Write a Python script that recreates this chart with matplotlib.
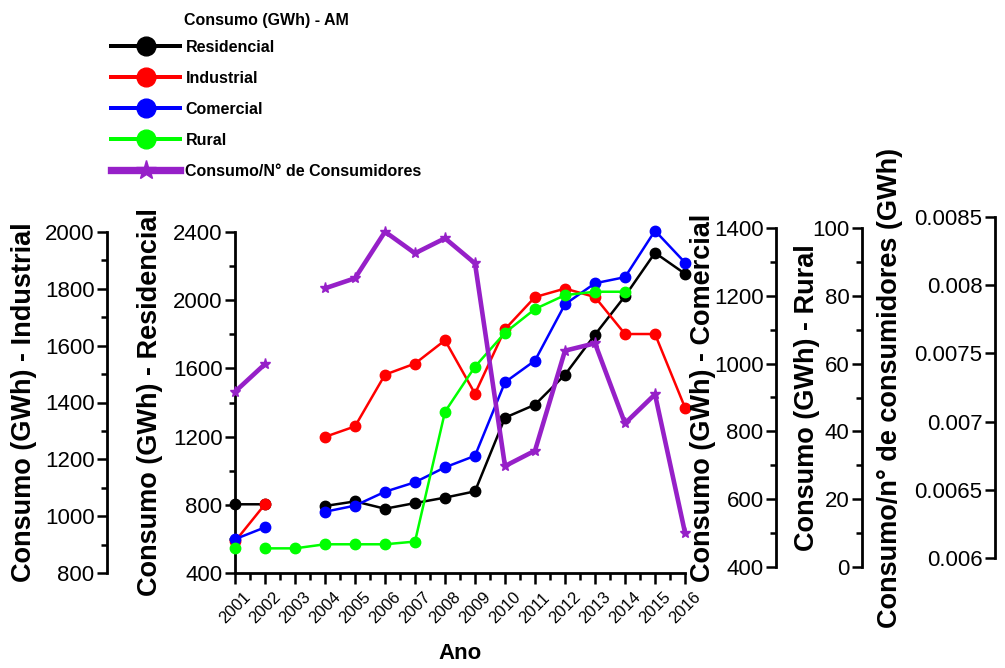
import numpy as np
import matplotlib.pyplot as plt
from matplotlib import font_manager
from matplotlib.ticker import MultipleLocator, FuncFormatter

plt.rcParams["font.family"] = "Liberation Sans"

nan = np.nan
years = list(range(2001, 2017))
residencial = [803, 803, nan, 793, 820, 777, 810, 842, 879, 1311, 1387, 1563, 1798, 2024, 2278, 2155]
industrial = [911, 1042, nan, 1279, 1316, 1498, 1537, 1619, 1431, 1658, 1771, 1801, 1771, 1641, 1641, 1382]
comercial = [482, 517, nan, 563, 581, 622, 650, 694, 728, 945, 1009, 1175, 1237, 1255, 1392, 1298]
rural = [5.5, 5.5, 5.5, 6.7, 6.7, 6.7, 7.5, 45.8, 59.1, 69.1, 76.1, 80.2, 81.2, 81.2, nan, nan]
por_consumidor = [0.007219, 0.007422, nan, 0.007977, 0.008051, 0.008392, 0.008234, 0.008344,
                  0.008160, 0.006674, 0.006787, 0.007520, 0.007574, 0.006987, 0.007200, 0.006186]

PURPLE = "#9620c8"
GREEN = "#00ff00"

# narrow bold face for the legend if it exists
names = {f.name for f in font_manager.fontManager.ttflist}
if "Liberation Sans Narrow" in names:
    leg_font = dict(family="Liberation Sans Narrow", weight="bold", size=14)
else:
    leg_font = dict(family="Liberation Sans", weight="bold", size=11.5)

W, H = 1005, 668
fig = plt.figure(figsize=(W / 100, H / 100), dpi=100)


def box(top, bottom):
    return [235 / W, (H - bottom) / H, 450 / W, (bottom - top) / H]


ax_res = fig.add_axes(box(232, 573))
ax_ind = fig.add_axes(box(232, 573))
ax_com = fig.add_axes(box(228, 567))
ax_rur = fig.add_axes(box(228, 567))
ax_cpc = fig.add_axes(box(217, 558))


def style_y(ax, spine_px, lims, major, minor, label, label_px, fmt=None):
    ax.set_xlim(2001, 2016)
    ax.set_ylim(*lims)
    for s in ["top", "right"]:
        ax.spines[s].set_visible(False)
    ax.spines["left"].set_linewidth(2)
    if ax is not ax_res:
        ax.patch.set_visible(False)
        ax.spines["bottom"].set_visible(False)
        ax.spines["left"].set_position(("axes", (spine_px - 235) / 450))
        ax.tick_params(axis="x", which="both", bottom=False, labelbottom=False)
    ax.yaxis.set_major_locator(MultipleLocator(major))
    if minor:
        ax.yaxis.set_minor_locator(MultipleLocator(minor))
    if fmt:
        ax.yaxis.set_major_formatter(FuncFormatter(fmt))
    ax.tick_params(axis="y", which="major", direction="out", length=7, width=1.8,
                   labelsize=16, pad=2)
    ax.tick_params(axis="y", which="minor", direction="out", length=4, width=1.8)
    ax.set_ylabel(label, fontsize=19.5, fontweight="bold")
    ax.yaxis.set_label_coords((label_px - 235) / 450, 0.5)


style_y(ax_res, 235, (400, 2400), 400, 200, "Consumo (GWh) - Residencial", 163)
style_y(ax_ind, 107, (800, 2000), 200, 100, "Consumo (GWh) - Industrial", 37)
style_y(ax_com, 776, (400, 1400), 200, 100, "Consumo (GWh) - Comercial", 716)
style_y(ax_rur, 862, (0, 100), 20, 10, "Consumo (GWh) - Rural", 820)
style_y(ax_cpc, 995, (0.006, 0.0085), 0.0005, None, "Consumo/n° de consumidores (GWh)", 903,
        fmt=lambda v, p: f"{v:g}")

# x axis on the main axes
ax_res.spines["bottom"].set_linewidth(2)
ax_res.set_xticks(years)
ax_res.set_xticklabels([str(y) for y in years], rotation=45, ha="center", fontsize=12)
ax_res.xaxis.set_minor_locator(MultipleLocator(0.5))
ax_res.tick_params(axis="x", which="major", direction="out", length=8, width=1.8, pad=4)
ax_res.tick_params(axis="x", which="minor", direction="out", length=5, width=1.8)
ax_res.set_xlabel("Ano", fontsize=16, fontweight="bold", labelpad=12)

lw, ms = 1.8, 7.5
h_res, = ax_res.plot(years, residencial, color="black", lw=lw, marker="o", ms=ms, clip_on=False)
h_ind, = ax_ind.plot(years, industrial, color="red", lw=lw, marker="o", ms=ms, clip_on=False)
h_com, = ax_com.plot(years, comercial, color="blue", lw=lw, marker="o", ms=ms, clip_on=False)
ax_rur.plot(years[:1], rural[:1], color=GREEN, ls="none", marker="o", ms=ms, clip_on=False)
h_rur, = ax_rur.plot(years[1:], rural[1:], color=GREEN, lw=lw, marker="o", ms=ms, clip_on=False)
h_cpc, = ax_cpc.plot(years, por_consumidor, color=PURPLE, lw=3.3, marker="*", ms=8, clip_on=False)

leg = fig.legend([h_res, h_ind, h_com, h_rur, h_cpc],
                 ["Residencial", "Industrial", "Comercial", "Rural", "Consumo/N° de Consumidores"],
                 title="Consumo (GWh) - AM", loc="upper left",
                 bbox_to_anchor=(100 / W, 1 - 2 / H), frameon=False, markerscale=1.8,
                 handlelength=4.3, handletextpad=0.35, labelspacing=1.0, borderpad=0.2,
                 prop=leg_font, title_fontproperties=leg_font)
leg._legend_box.sep = 8.5
for line in leg.get_lines():
    line.set_linewidth(line.get_linewidth() * 1.6)

fig.savefig("out.png", dpi=100)
